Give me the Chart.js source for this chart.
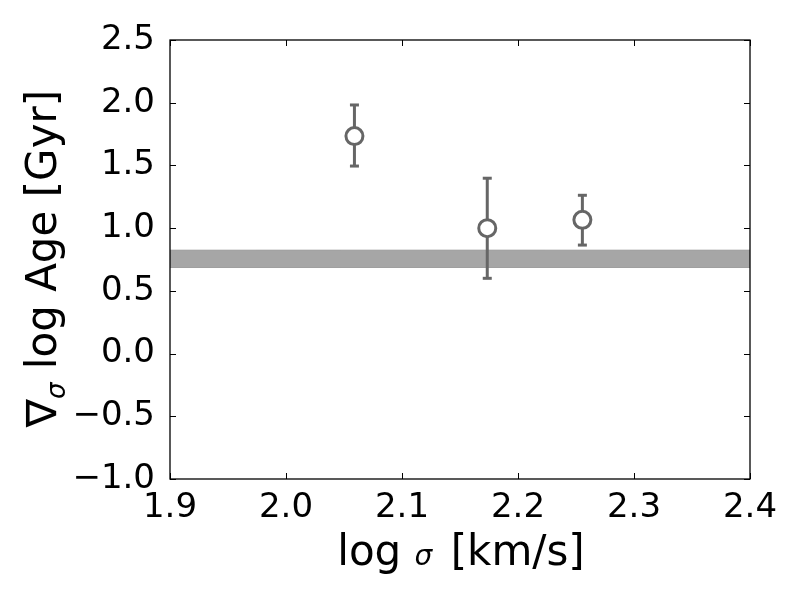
<!DOCTYPE html>
<html>
<head>
<meta charset="utf-8">
<script src="https://cdn.jsdelivr.net/npm/chart.js@4.4.1/dist/chart.umd.min.js"></script>
<style>
  html, body { margin: 0; padding: 0; background: #fff; }
  #wrap { width: 800px; height: 600px; }
</style>
</head>
<body>
<div id="wrap"><canvas id="c" width="800" height="600"></canvas></div>
<script>
// ---- data ----
const sigmaX   = [2.059, 2.1735, 2.2555];
const ageGrad  = [1.734, 1.00, 1.066];
const errLow   = [1.495, 0.600, 0.865];
const errHigh  = [1.982, 1.398, 1.262];
const bandLow  = 0.686;
const bandHigh = 0.824;
const xRange   = [1.9, 2.4];
const yRange   = [-1.0, 2.5];
const xTicks   = [1.9, 2.0, 2.1, 2.2, 2.3, 2.4];
const yTicks   = [-1.0, -0.5, 0.0, 0.5, 1.0, 1.5, 2.0, 2.5];
const xTitleParts = ['log ', 'σ', ' [km/s]'];
const yTitleParts = ['∇', 'σ', ' log Age [Gyr]'];

const GRAY = '#666666';
const BAND = '#a6a6a6';
const FONT = "'DejaVu Sans', sans-serif";

const points = sigmaX.map((x, i) => ({ x: x, y: ageGrad[i] }));
const errPts = [];
sigmaX.forEach((x, i) => {
  errPts.push({ x: x, y: errLow[i] });
  errPts.push({ x: x, y: errHigh[i] });
  errPts.push({ x: x, y: null });
});

const framePlugin = {
  id: 'frame',
  afterDraw(chart) {
    const { ctx, chartArea: a, scales } = chart;
    const xs = scales.x, ys = scales.y;
    ctx.save();
    // inward ticks on all four sides
    ctx.strokeStyle = '#000';
    ctx.lineWidth = 1;
    const tl = 6;
    ctx.beginPath();
    xTicks.forEach(v => {
      const px = Math.round(xs.getPixelForValue(v)) + 0.5;
      ctx.moveTo(px, a.bottom); ctx.lineTo(px, a.bottom - tl);
      ctx.moveTo(px, a.top); ctx.lineTo(px, a.top + tl);
    });
    yTicks.forEach(v => {
      const py = Math.round(ys.getPixelForValue(v)) + 0.5;
      ctx.moveTo(a.left, py); ctx.lineTo(a.left + tl, py);
      ctx.moveTo(a.right, py); ctx.lineTo(a.right - tl, py);
    });
    ctx.stroke();
    // frame
    ctx.lineWidth = 1.3;
    ctx.strokeStyle = '#000';
    ctx.strokeRect(a.left, a.top, a.right - a.left, a.bottom - a.top);

    // x title
    ctx.fillStyle = '#000';
    ctx.textBaseline = 'alphabetic';
    ctx.textAlign = 'left';
    const big = "42px " + FONT;
    const ital = "italic 28px " + FONT;
    ctx.font = big;
    const w0 = ctx.measureText(xTitleParts[0]).width;
    const w2 = ctx.measureText(xTitleParts[2]).width;
    ctx.font = ital;
    const w1 = ctx.measureText(xTitleParts[1]).width + 5;
    const cx = (a.left + a.right) / 2 + 1;
    let sx = cx - (w0 + w1 + w2) / 2;
    const by = 565;
    ctx.font = big; ctx.fillText(xTitleParts[0], sx, by);
    ctx.font = ital; ctx.fillText(xTitleParts[1], sx + w0, by);
    ctx.font = big; ctx.fillText(xTitleParts[2], sx + w0 + w1, by);

    // y title (rotated)
    const subF = "italic 26px " + FONT;
    ctx.font = big;
    const v0 = ctx.measureText(yTitleParts[0]).width;
    const v2 = ctx.measureText(yTitleParts[2]).width;
    ctx.font = subF;
    const v1 = ctx.measureText(yTitleParts[1]).width;
    const tot = v0 + v1 + v2;
    ctx.translate(56, 258.5);
    ctx.rotate(-Math.PI / 2);
    let tx = -tot / 2;
    ctx.font = big; ctx.fillText(yTitleParts[0], tx, 0);
    ctx.font = subF; ctx.fillText(yTitleParts[1], tx + v0, 9);
    ctx.font = big; ctx.fillText(yTitleParts[2], tx + v0 + v1, 0);
    ctx.restore();
  }
};

new Chart(document.getElementById('c'), {
  type: 'scatter',
  data: {
    datasets: [
      {
        label: 'points',
        data: points,
        order: 0,
        pointRadius: 8.5,
        pointHoverRadius: 8.5,
        pointBorderWidth: 3,
        pointBackgroundColor: '#ffffff',
        pointBorderColor: GRAY,
        showLine: false
      },
      {
        label: 'errors',
        data: errPts,
        order: 1,
        showLine: true,
        spanGaps: false,
        borderColor: GRAY,
        borderWidth: 3,
        pointStyle: 'line',
        pointRadius: 4.5,
        pointHoverRadius: 4.5,
        pointBorderWidth: 3,
        pointBorderColor: GRAY,
        pointBackgroundColor: GRAY
      },
      {
        label: 'bandHigh',
        data: xRange.map(x => ({ x: x, y: bandHigh })),
        order: 2,
        showLine: true,
        borderColor: '#999999',
        borderWidth: 1,
        pointRadius: 0,
        backgroundColor: BAND,
        fill: '+1'
      },
      {
        label: 'bandLow',
        data: xRange.map(x => ({ x: x, y: bandLow })),
        order: 3,
        showLine: true,
        borderColor: '#999999',
        borderWidth: 1,
        pointRadius: 0,
        fill: false
      }
    ]
  },
  options: {
    responsive: false,
    animation: false,
    events: [],
    layout: { padding: { left: 0, right: 50, top: 40, bottom: 0 } },
    plugins: {
      legend: { display: false },
      tooltip: { enabled: false },
      filler: { propagate: false }
    },
    scales: {
      x: {
        type: 'linear',
        min: xRange[0], max: xRange[1],
        grid: { display: false, drawTicks: false },
        border: { display: false },
        afterBuildTicks: s => { s.ticks = xTicks.map(v => ({ value: v })); },
        afterFit: s => { s.height = 121; },
        ticks: {
          padding: 9,
          color: '#000',
          font: { family: FONT, size: 34 },
          maxRotation: 0,
          autoSkip: false,
          callback: v => Number(v).toFixed(1)
        }
      },
      y: {
        type: 'linear',
        min: yRange[0], max: yRange[1],
        grid: { display: false, drawTicks: false },
        border: { display: false },
        afterBuildTicks: s => { s.ticks = yTicks.map(v => ({ value: v })); },
        afterFit: s => { s.width = 170; },
        ticks: {
          padding: 15,
          color: '#000',
          autoSkip: false,
          font: { family: FONT, size: 34 },
          callback: v => (v < 0 ? '\u2212' + Math.abs(v).toFixed(1) : Number(v).toFixed(1))
        }
      }
    }
  },
  plugins: [framePlugin]
});
</script>
</body>
</html>
